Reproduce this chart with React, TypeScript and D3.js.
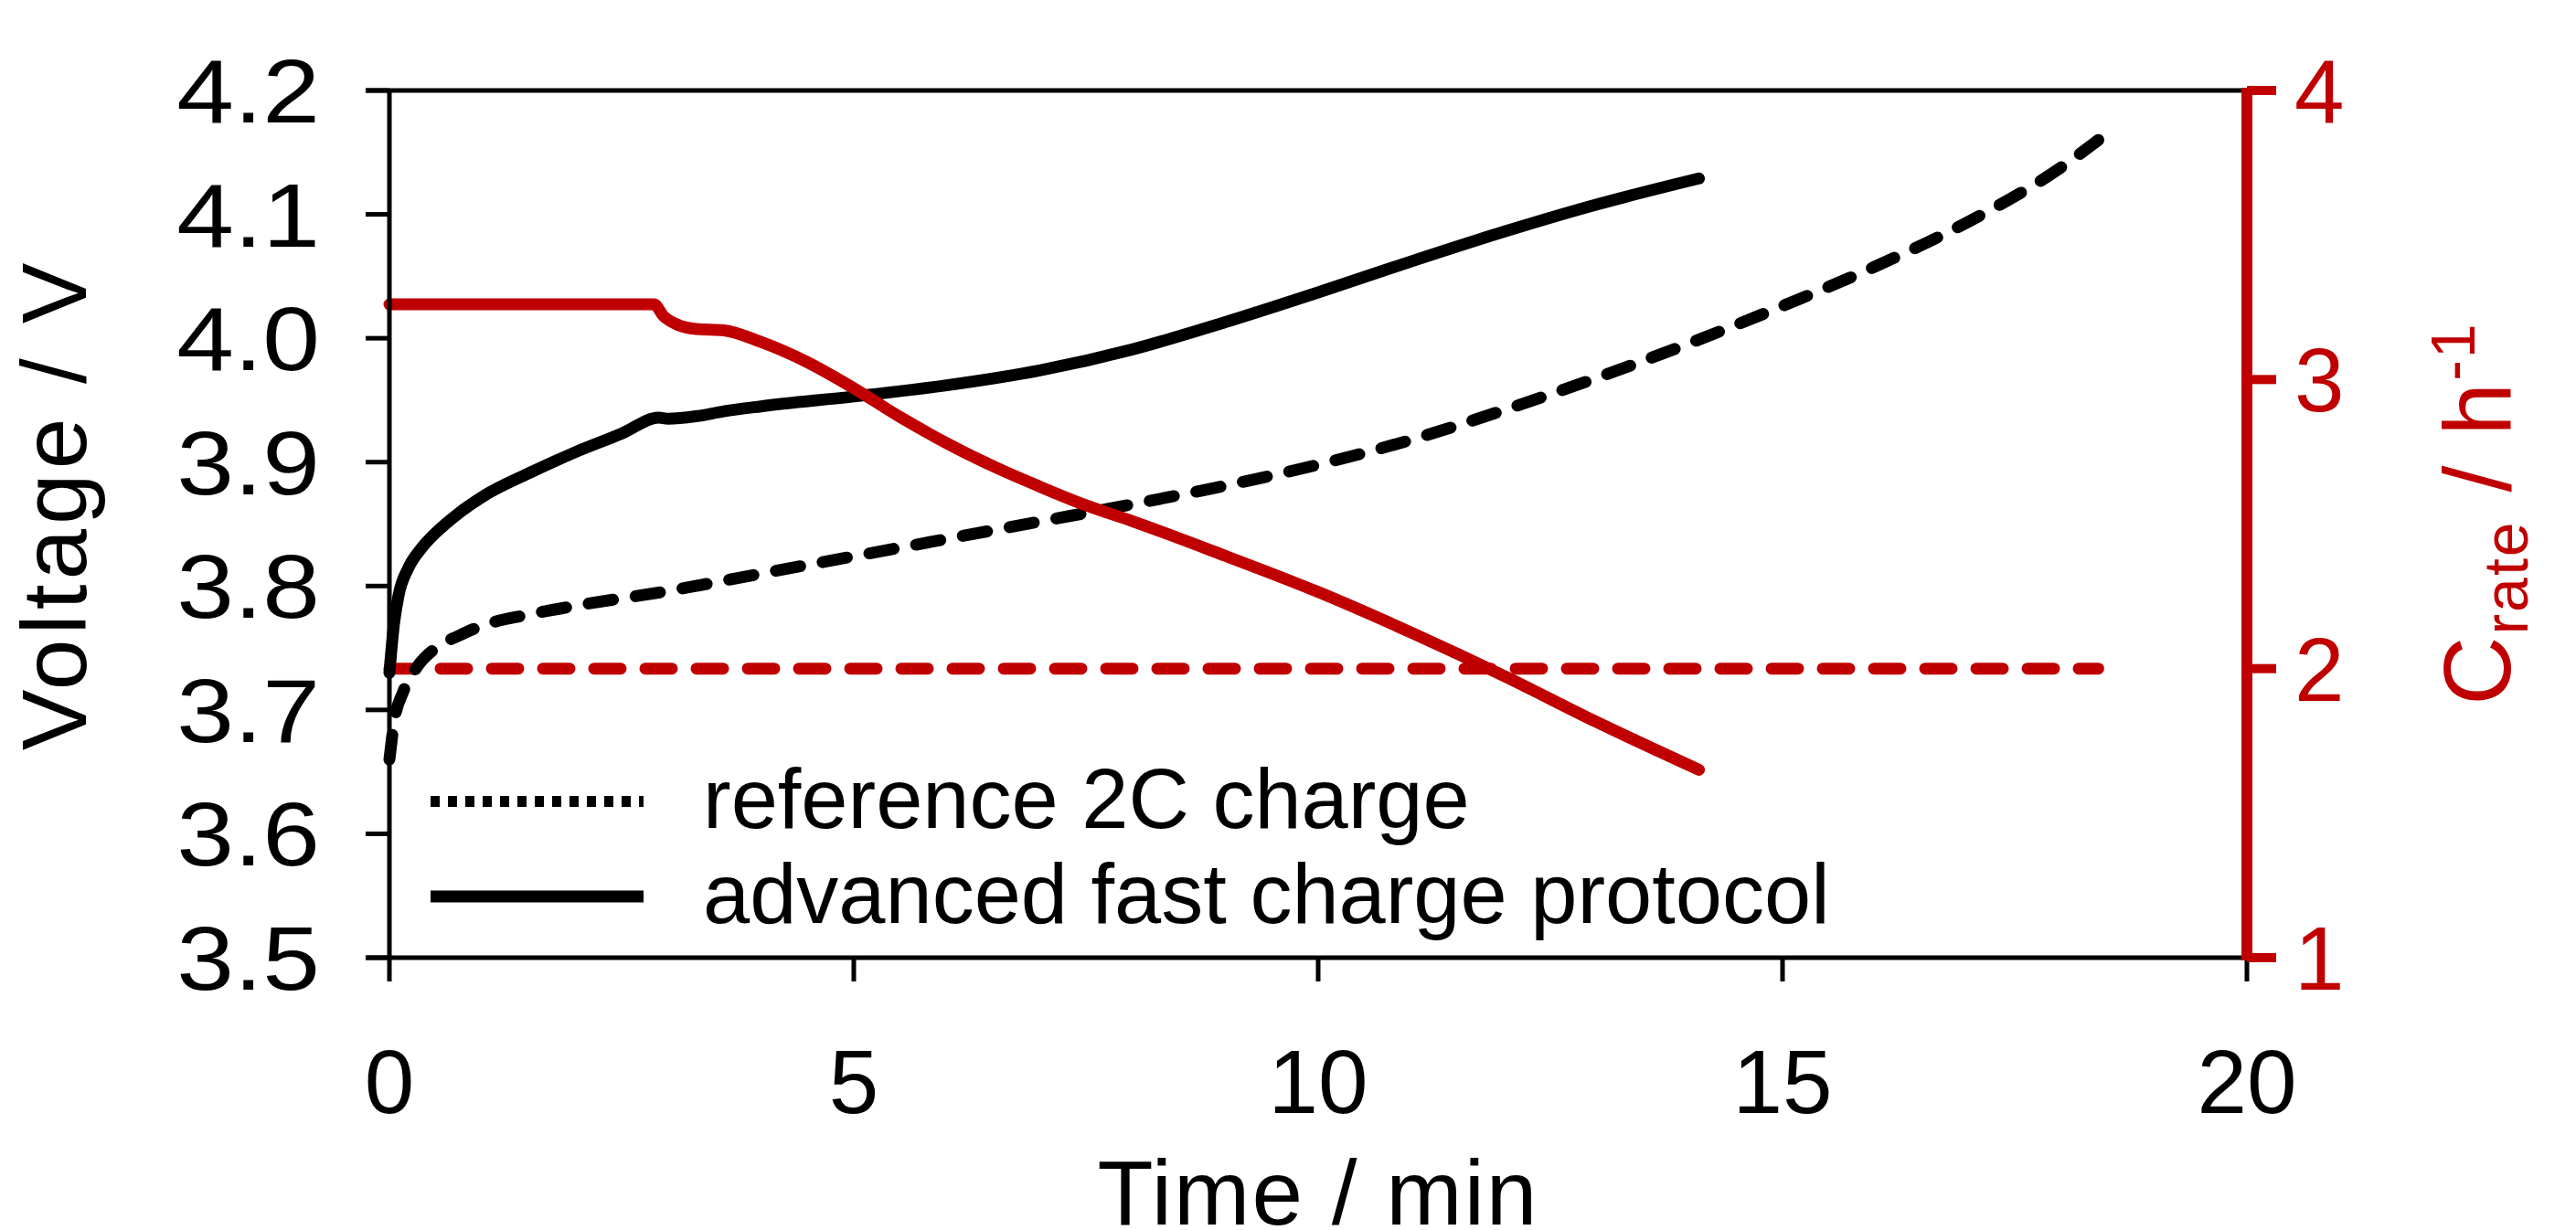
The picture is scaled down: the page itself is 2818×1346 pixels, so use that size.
import React from "react";
import * as d3 from "d3";

// --- data ---
const refTime = [0, 0.05, 0.15, 0.3, 0.5, 0.75, 1, 1.5, 2, 3, 4, 5, 6, 7, 8, 9, 10, 11, 12, 13, 14, 15, 16, 17, 18, 18.4];
const refVoltage = [3.66, 3.69, 3.715, 3.735, 3.75, 3.76, 3.768, 3.777, 3.784, 3.796, 3.81, 3.824, 3.838, 3.852, 3.866, 3.881, 3.898, 3.918, 3.942, 3.968, 3.996, 4.026, 4.058, 4.094, 4.138, 4.16];

const advTime = [0, 0.05, 0.1, 0.2, 0.35, 0.5, 0.75, 1, 1.5, 2, 2.5, 2.9, 3.0, 3.3, 3.6, 4, 5, 6, 7, 8, 9, 10, 11, 12, 13, 14.1];
const advVoltage = [3.73, 3.77, 3.793, 3.814, 3.831, 3.843, 3.859, 3.872, 3.891, 3.908, 3.923, 3.936, 3.935, 3.937, 3.941, 3.945, 3.953, 3.962, 3.974, 3.991, 4.013, 4.037, 4.062, 4.086, 4.108, 4.129];

const advCrateTime = [0, 2.85, 2.95, 3.1, 3.3, 3.6, 4, 4.5, 5, 5.5, 6, 6.5, 7, 7.5, 8, 9, 10, 11, 12, 13, 14.1];
const advCrate = [3.26, 3.26, 3.22, 3.19, 3.175, 3.17, 3.13, 3.06, 2.97, 2.87, 2.78, 2.7, 2.63, 2.565, 2.51, 2.39, 2.265, 2.125, 1.975, 1.815, 1.65];

const refCrateTime = [0, 18.4];
const refCrate = [2, 2];

const xTicks = [0, 5, 10, 15, 20];
const vTicks = [3.5, 3.6, 3.7, 3.8, 3.9, 4.0, 4.1, 4.2];
const cTicks = [1, 2, 3, 4];

const legendLabels = ["reference 2C charge", "advanced fast charge protocol"];

const RED = "#c00000";
const FONT = "'Liberation Sans', Arial, sans-serif";

export default function App() {
  const W = 2818;
  const H = 1346;
  const left = 426;
  const right = 2458;
  const top = 99;
  const bottom = 1048;

  const x = d3.scaleLinear().domain([0, 20]).range([left, right]);
  const yV = d3.scaleLinear().domain([3.5, 4.2]).range([bottom, top]);
  const yC = d3.scaleLinear().domain([1, 4]).range([bottom, top]);

  const zip = (a: number[], b: number[]) => a.map((t, i) => [t, b[i]] as [number, number]);

  const lineV = d3
    .line<[number, number]>()
    .x((d) => x(d[0]))
    .y((d) => yV(d[1]))
    .curve(d3.curveMonotoneX);
  const lineC = d3
    .line<[number, number]>()
    .x((d) => x(d[0]))
    .y((d) => yC(d[1]))
    .curve(d3.curveMonotoneX);

  const tickLen = 26;
  const tickSize = 98;
  const titleSize = 100;
  const lw = 13;

  return (
    <div style={{ position: "fixed", left: 0, top: 0, width: W, height: H, background: "#fff" }}>
      <svg width={W} height={H} style={{ display: "block" }} fontFamily={FONT}>
        {/* curves */}
        <path d={lineC(zip(refCrateTime, refCrate)) || ""} fill="none" stroke={RED} strokeWidth={lw} strokeDasharray="29 27" strokeLinecap="round" />
        <path d={lineV(zip(refTime, refVoltage)) || ""} fill="none" stroke="#000" strokeWidth={lw} strokeDasharray="27 25" strokeLinecap="round" />
        <path d={lineV(zip(advTime, advVoltage)) || ""} fill="none" stroke="#000" strokeWidth={lw} strokeLinecap="round" strokeLinejoin="round" />
        <path d={lineC(zip(advCrateTime, advCrate)) || ""} fill="none" stroke={RED} strokeWidth={lw} strokeLinecap="round" strokeLinejoin="round" />

        {/* frame */}
        <line x1={left - tickLen} x2={right} y1={top} y2={top} stroke="#000" strokeWidth={5} />
        <line x1={left - tickLen} x2={right} y1={bottom} y2={bottom} stroke="#000" strokeWidth={5} />
        <line x1={left} x2={left} y1={top} y2={bottom} stroke="#000" strokeWidth={5} />

        {/* left axis */}
        {vTicks.map((v) => (
          <g key={v}>
            <line x1={left - tickLen} x2={left} y1={yV(v)} y2={yV(v)} stroke="#000" strokeWidth={5} />
            <text transform={`translate(350, ${yV(v) + 35}) scale(1.15, 1)`} textAnchor="end" fontSize={tickSize}>
              {v.toFixed(1)}
            </text>
          </g>
        ))}
        <text transform={`translate(94, 552) rotate(-90)`} textAnchor="middle" fontSize={titleSize} letterSpacing={5}>
          Voltage / V
        </text>

        {/* bottom axis */}
        {xTicks.map((t) => (
          <g key={t}>
            <line x1={x(t)} x2={x(t)} y1={bottom} y2={bottom + tickLen} stroke="#000" strokeWidth={5} />
            <text x={x(t)} y={1218} textAnchor="middle" fontSize={tickSize}>
              {t}
            </text>
          </g>
        ))}
        <text x={(left + right) / 2} y={1340} textAnchor="middle" fontSize={titleSize} letterSpacing={2}>
          Time / min
        </text>

        {/* right axis */}
        <line x1={right} x2={right} y1={top - 3} y2={bottom + 3} stroke={RED} strokeWidth={12} />
        {cTicks.map((c) => (
          <g key={c}>
            <line x1={right} x2={right + 32} y1={yC(c)} y2={yC(c)} stroke={RED} strokeWidth={10} />
            <text x={2510} y={yC(c) + 35} textAnchor="start" fill={RED} fontSize={tickSize}>
              {c}
            </text>
          </g>
        ))}
        <text transform={`translate(2746, 562) rotate(-90)`} textAnchor="middle" fill={RED} fontSize={104} letterSpacing={2}>
          C<tspan fontSize={68} dy={19}>rate</tspan>
          <tspan dy={-19}> / h</tspan>
          <tspan fontSize={68} dy={-39}>-1</tspan>
        </text>

        {/* legend */}
        <line x1={471} x2={704} y1={877} y2={877} stroke="#000" strokeWidth={12} strokeDasharray="10 9" />
        <line x1={471} x2={704} y1={981} y2={981} stroke="#000" strokeWidth={13} />
        <text x={769} y={906} fontSize={92}>
          {legendLabels[0]}
        </text>
        <text x={769} y={1010} fontSize={92}>
          {legendLabels[1]}
        </text>
      </svg>
    </div>
  );
}
